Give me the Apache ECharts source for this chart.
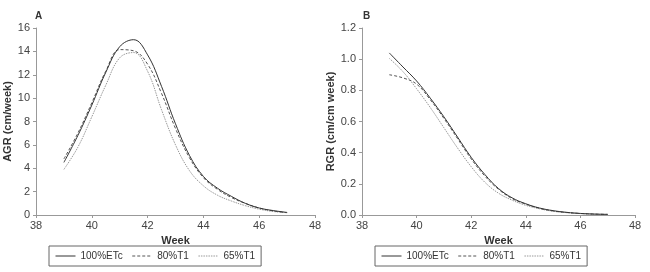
<!DOCTYPE html>
<html>
<head>
<meta charset="utf-8">
<script src="https://cdn.jsdelivr.net/npm/echarts@6/dist/echarts.min.js"></script>
<style>
  html, body { margin: 0; padding: 0; background: #fff; }
  #chart { width: 650px; height: 272px; }
</style>
</head>
<body>
<div id="chart"></div>
<script>
const weeks = [39, 39.5, 40, 40.5, 41, 41.5, 42, 42.5, 43, 43.5, 44, 44.5, 45, 45.5, 46, 46.5, 47];
const seriesNames = ['100%ETc', '80%T1', '65%T1'];
const xTicks = [38, 40, 42, 44, 46, 48];

// AGR (cm/week)
const agrETc = [4.5, 6.8, 9.4, 12.2, 14.4, 15.0, 13.7, 11.0, 7.8, 5.1, 3.3, 2.3, 1.6, 1.0, 0.6, 0.38, 0.22];
const agr80 = [4.8, 7.0, 9.6, 12.3, 14.15, 14.05, 12.9, 10.4, 7.4, 4.9, 3.2, 2.2, 1.5, 1.0, 0.6, 0.35, 0.2];
const agr65 = [3.9, 5.8, 8.4, 11.1, 13.45, 13.9, 12.3, 9.0, 6.0, 3.8, 2.5, 1.7, 1.2, 0.8, 0.5, 0.3, 0.2];

// RGR (cm/cm week)
const rgrETc = [1.04, 0.95, 0.86, 0.75, 0.63, 0.5, 0.37, 0.26, 0.17, 0.11, 0.072, 0.045, 0.028, 0.017, 0.01, 0.006, 0.004];
const rgr80 = [0.9, 0.88, 0.84, 0.74, 0.62, 0.49, 0.36, 0.25, 0.165, 0.105, 0.07, 0.043, 0.026, 0.016, 0.01, 0.006, 0.004];
const rgr65 = [1.005, 0.92, 0.81, 0.69, 0.56, 0.43, 0.31, 0.21, 0.14, 0.095, 0.062, 0.04, 0.024, 0.015, 0.009, 0.005, 0.003];

const font = '"Liberation Sans", Arial, sans-serif';
const styles = [
  { color: '#333', type: 'solid' },
  { color: '#555', type: [3, 2] },
  { color: '#999', type: [1.5, 1] }
];

function pairs(ys) {
  return weeks.map((w, i) => [w, ys[i]]);
}

function xAxis(idx) {
  return {
    type: 'value', gridIndex: idx, min: xTicks[0], max: xTicks[xTicks.length - 1], interval: 2,
    name: 'Week', nameLocation: 'middle', nameGap: 14,
    nameTextStyle: { fontFamily: font, fontWeight: 'bold', fontSize: 11, color: '#333' },
    axisLine: { lineStyle: { color: '#999' } },
    axisTick: { length: 3, lineStyle: { color: '#999' } },
    axisLabel: { fontFamily: font, fontSize: 11, color: '#444', margin: 5 },
    splitLine: { show: false }
  };
}

function yAxis(idx, name, max, interval, gap, fmt) {
  return {
    type: 'value', gridIndex: idx, min: 0, max: max, interval: interval,
    name: name, nameLocation: 'middle', nameGap: gap,
    nameTextStyle: { fontFamily: font, fontWeight: 'bold', fontSize: 11, color: '#333' },
    axisLine: { show: true, lineStyle: { color: '#999' } },
    axisTick: { show: true, length: 3, lineStyle: { color: '#999' } },
    axisLabel: { fontFamily: font, fontSize: 11, color: '#444', margin: 6, formatter: fmt },
    splitLine: { show: false }
  };
}

function makeSeries(idx, lists) {
  return lists.map((ys, i) => ({
    name: seriesNames[i], type: 'line', xAxisIndex: idx, yAxisIndex: idx,
    data: pairs(ys), smooth: 0.4, showSymbol: false, symbol: 'none',
    lineStyle: { width: 1, color: styles[i].color, type: styles[i].type },
    itemStyle: { color: styles[i].color },
    z: 3 - i
  }));
}

function legend(left) {
  return {
    show: true, left: left, top: 246,
    orient: 'horizontal',
    borderColor: '#666', borderWidth: 1, padding: [5, 6],
    itemWidth: 20, itemHeight: 8, itemGap: 9,
    itemStyle: { opacity: 0 },
    lineStyle: { width: 1 },
    textStyle: { fontFamily: font, fontSize: 10, color: '#333' }
  };
}

const chart = echarts.init(document.getElementById('chart'));
chart.setOption({
  animation: false,
  backgroundColor: '#fff',
  title: [
    { text: 'A', left: 30, top: 6, textStyle: { fontFamily: font, fontWeight: 'bold', fontSize: 10, color: '#333' } },
    { text: 'B', left: 358, top: 6, textStyle: { fontFamily: font, fontWeight: 'bold', fontSize: 10, color: '#333' } }
  ],
  grid: [
    { left: 36, top: 28, width: 279, height: 187 },
    { left: 362, top: 28, width: 273, height: 187 }
  ],
  xAxis: [xAxis(0), xAxis(1)],
  yAxis: [
    yAxis(0, 'AGR (cm/week)', 16, 2, 20, v => v),
    yAxis(1, 'RGR (cm/cm week)', 1.2, 0.2, 23, v => v.toFixed(1))
  ],
  legend: [legend(49), legend(375)],
  series: makeSeries(0, [agrETc, agr80, agr65]).concat(makeSeries(1, [rgrETc, rgr80, rgr65]))
});
</script>
</body>
</html>
